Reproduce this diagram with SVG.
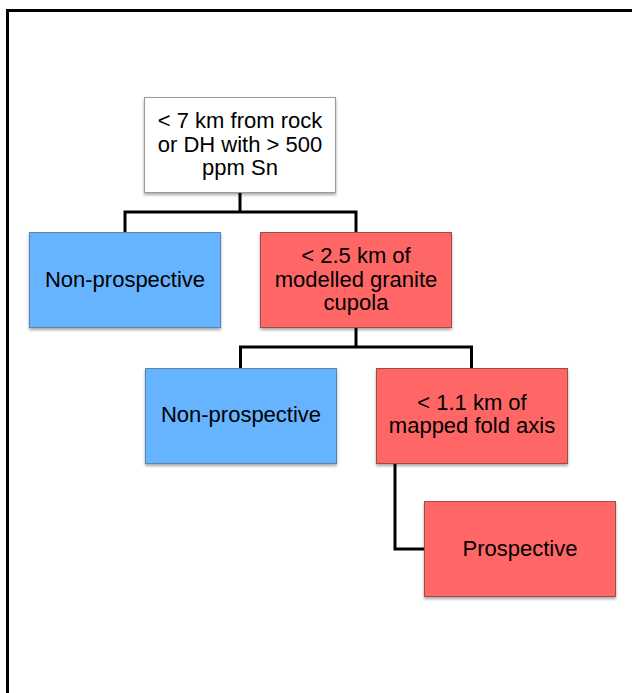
<svg xmlns="http://www.w3.org/2000/svg" width="632" height="693" viewBox="0 0 632 693">
  <style>
    .lbl { font-family: "Liberation Sans", Arial, sans-serif; font-size: 22px; fill: #000; text-anchor: middle; }
    .white { fill: #ffffff; stroke: #9a9a9a; stroke-width: 1; }
    .blue { fill: #66B3FF; stroke: #5a86b0; stroke-width: 1; }
    .red { fill: #FF6666; stroke: #a04c4c; stroke-width: 1; }
    .conn { fill: none; stroke: #000; stroke-width: 3; stroke-linejoin: miter; }
  </style>
  <defs>
    <filter id="sh" x="-10%" y="-10%" width="120%" height="130%">
      <feDropShadow dx="0" dy="2" stdDeviation="1.5" flood-color="#000" flood-opacity="0.35"/>
    </filter>
  </defs>
  <rect width="632" height="693" fill="#ffffff"/>
  <path d="M7.5,693 V10.5 H632" fill="none" stroke="#000" stroke-width="3"/>

  <g id="connectors">
    <path class="conn" d="M240,192 V212 M125,232 V212 H356 V232"/>
    <path class="conn" d="M356,327 V347 M240.5,368 V347 H471.5 V368"/>
    <path class="conn" d="M395,463 V549 H424"/>
  </g>

  <g id="root">
    <rect class="white" x="144.5" y="97.5" width="191" height="95" filter="url(#sh)"/>
    <text class="lbl" x="240" y="128">&lt; 7 km from rock</text>
    <text class="lbl" x="240" y="152">or DH with &gt; 500</text>
    <text class="lbl" x="240" y="175">ppm Sn</text>
  </g>

  <g id="nonprosp1">
    <rect class="blue" x="29.5" y="232.5" width="191" height="95" filter="url(#sh)"/>
    <text class="lbl" x="125" y="287">Non-prospective</text>
  </g>

  <g id="granite">
    <rect class="red" x="260.5" y="232.5" width="191" height="95" filter="url(#sh)"/>
    <text class="lbl" x="356" y="263">&lt; 2.5 km of</text>
    <text class="lbl" x="356" y="287">modelled granite</text>
    <text class="lbl" x="356" y="310">cupola</text>
  </g>

  <g id="nonprosp2">
    <rect class="blue" x="145.5" y="368.5" width="191" height="95" filter="url(#sh)"/>
    <text class="lbl" x="241" y="422">Non-prospective</text>
  </g>

  <g id="fold">
    <rect class="red" x="376.5" y="368.5" width="191" height="95" filter="url(#sh)"/>
    <text class="lbl" x="472" y="410">&lt; 1.1 km of</text>
    <text class="lbl" x="472" y="433">mapped fold axis</text>
  </g>

  <g id="prosp">
    <rect class="red" x="424.5" y="501.5" width="191" height="95" filter="url(#sh)"/>
    <text class="lbl" x="520" y="556">Prospective</text>
  </g>
</svg>
